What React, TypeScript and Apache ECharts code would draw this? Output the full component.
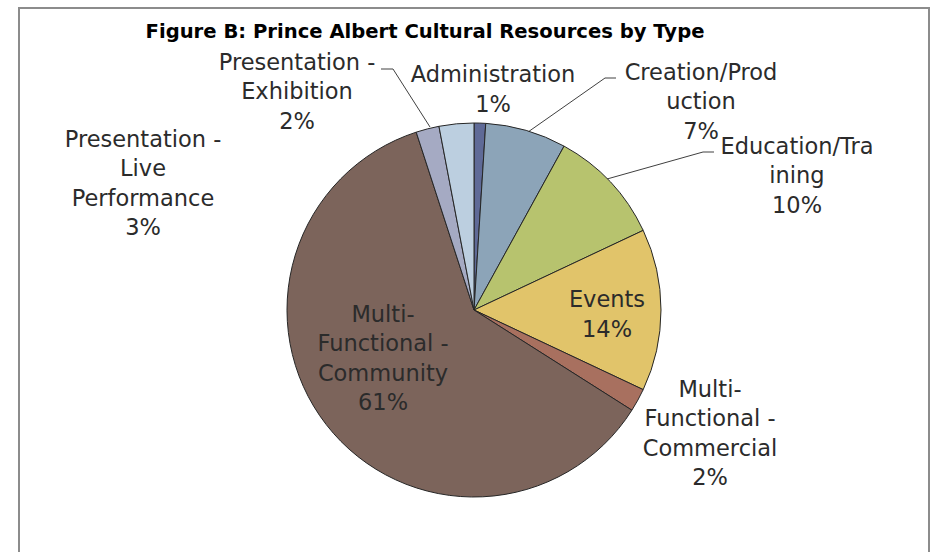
import React, { useEffect, useRef } from "react";
import * as echarts from "echarts";

const categories = [
  "Administration",
  "Creation/Production",
  "Education/Training",
  "Events",
  "Multi-Functional - Commercial",
  "Multi-Functional - Community",
  "Presentation - Exhibition",
  "Presentation - Live Performance",
];
const values = [1, 7, 10, 14, 2, 61, 2, 3];
const colors = ["#5f6a97", "#8ca4b8", "#b7c36e", "#e1c46a", "#a8705f", "#7c645b", "#a5aac3", "#bccfe0"];
const titleText = "Figure B: Prince Albert Cultural Resources by Type";

// how each label is wrapped (text layout only)
const labelLines: Record<string, string[]> = {
  "Administration": ["Administration"],
  "Creation/Production": ["Creation/Prod", "uction"],
  "Education/Training": ["Education/Tra", "ining"],
  "Events": ["Events"],
  "Multi-Functional - Commercial": ["Multi-", "Functional -", "Commercial"],
  "Multi-Functional - Community": ["Multi-", "Functional -", "Community"],
  "Presentation - Exhibition": ["Presentation -", "Exhibition"],
  "Presentation - Live Performance": ["Presentation -", "Live", "Performance"],
};

// label placement (layout/style)
const labelPos: Record<string, { x: number; y: number; line?: number[][] }> = {
  "Administration": { x: 493, y: 89 },
  "Creation/Production": { x: 701, y: 101, line: [[528, 132], [605, 78], [616, 78]] },
  "Education/Training": { x: 797, y: 175, line: [[607, 179], [703, 152], [714, 152]] },
  "Events": { x: 607, y: 314 },
  "Multi-Functional - Commercial": { x: 710, y: 433 },
  "Multi-Functional - Community": { x: 383, y: 358 },
  "Presentation - Exhibition": { x: 297, y: 91, line: [[430, 127], [393, 69], [381, 69]] },
  "Presentation - Live Performance": { x: 143, y: 183 },
};

export default function App() {
  const ref = useRef<HTMLDivElement>(null);
  useEffect(() => {
    if (!ref.current) return;
    const chart = echarts.init(ref.current, undefined, { renderer: "svg" });
    const data = categories.map((name, i) => ({
      name,
      value: values[i],
      itemStyle: { color: colors[i] },
      labelLine: { show: !!labelPos[name].line },
    }));
    chart.setOption({
      animation: false,
      backgroundColor: "#ffffff",
      graphic: [
        {
          type: "rect",
          shape: { x: 19, y: 8, width: 910, height: 600 },
          style: { fill: "none", stroke: "#8c8c8c", lineWidth: 2 },
          silent: true,
        },
        {
          type: "text",
          x: 425,
          y: 31,
          style: {
            text: titleText,
            font: "bold 19.6px 'DejaVu Sans', sans-serif",
            fill: "#000000",
            textAlign: "center",
            textVerticalAlign: "middle",
          },
        },
      ],
      series: [
        {
          type: "pie",
          center: [474, 310],
          radius: 187,
          startAngle: 90,
          clockwise: true,
          avoidLabelOverlap: false,
          itemStyle: { borderColor: "#262626", borderWidth: 1 },
          label: {
            show: true,
            position: "outside",
            fontFamily: "DejaVu Sans",
            fontSize: 22.5,
            lineHeight: 29.5,
            color: "#2b2b2b",
            align: "center",
            formatter: (p: any) =>
              [...(labelLines[p.name] || [p.name]), Math.round(p.percent) + "%"].join("\n"),
          },
          labelLine: { show: true, lineStyle: { color: "#404040", width: 1 } },
          labelLayout: (params: any) => {
            const name = categories[params.dataIndex];
            const pos = labelPos[name];
            const out: any = { x: pos.x, y: pos.y, align: "center", verticalAlign: "middle" };
            if (pos.line) out.labelLinePoints = pos.line;
            return out;
          },
          emphasis: { disabled: true },
          data,
        },
      ],
    });
    return () => chart.dispose();
  }, []);
  return (
    <div
      ref={ref}
      style={{ position: "absolute", left: 0, top: 0, width: 936, height: 552, background: "#fff" }}
    />
  );
}
